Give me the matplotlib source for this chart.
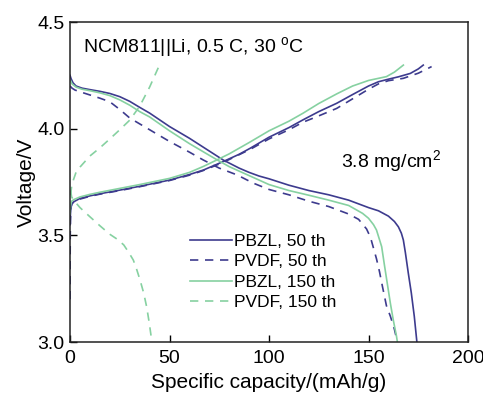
import numpy as np
import matplotlib
matplotlib.use("Agg")
import matplotlib.pyplot as plt

plt.rcParams['font.family'] = ['Liberation Sans', 'DejaVu Sans']
plt.rcParams['mathtext.fontset'] = 'custom'
plt.rcParams['mathtext.rm'] = 'Liberation Sans'

dark = '#3d3b8e'
green = '#86d1a1'

# PBZL, 50 th
pbzl50_dis_x = [0, 0.5, 1.5, 3, 6, 10, 15, 20, 25, 30, 35, 40, 50, 60, 70, 77, 85, 90, 95, 100,
                110, 120, 130, 140, 150, 155, 160, 163, 165, 166.5, 167.5, 168.5, 170, 171.5, 173, 174.3]
pbzl50_dis_y = [4.25, 4.235, 4.215, 4.20, 4.19, 4.183, 4.175, 4.165, 4.15, 4.128, 4.10, 4.073, 4.01,
                3.955, 3.895, 3.853, 3.815, 3.795, 3.778, 3.765, 3.735, 3.71, 3.69, 3.665, 3.63, 3.615,
                3.59, 3.565, 3.54, 3.51, 3.478, 3.42, 3.322, 3.23, 3.12, 3.0]
pbzl50_chg_x = [0, 0.2, 0.5, 1, 2, 5, 10, 15, 25, 35, 50, 60, 67, 77, 85, 90.5, 100, 110, 117, 125,
                134, 142, 150, 155, 160, 165, 171, 175, 177.5]
pbzl50_chg_y = [3.55, 3.6, 3.635, 3.65, 3.658, 3.673, 3.685, 3.695, 3.712, 3.73, 3.759, 3.785, 3.806,
                3.846, 3.88, 3.908, 3.96, 4.005, 4.041, 4.08, 4.119, 4.16, 4.2, 4.22, 4.232, 4.243,
                4.259, 4.28, 4.298]

# PVDF, 50 th
pvdf50_dis_x = [0, 1, 2.5, 6, 10, 15, 20, 25, 30, 40, 50, 60, 67, 75, 84, 92, 100, 110, 120, 130,
                140, 145, 149, 151, 152.5, 154, 155.5, 157, 159, 161, 163, 164]
pvdf50_dis_y = [4.20, 4.19, 4.181, 4.17, 4.158, 4.143, 4.126, 4.09, 4.05, 3.995, 3.94, 3.89, 3.853,
                3.815, 3.783, 3.745, 3.715, 3.69, 3.66, 3.635, 3.60, 3.575, 3.53, 3.49, 3.44, 3.39,
                3.33, 3.26, 3.17, 3.12, 3.06, 3.02]
pvdf50_chg_x = [0, 0.1, 0.3, 0.6, 1, 2, 5, 10, 15, 25, 35, 50, 60, 67, 77, 90.5, 100, 110, 117, 125,
                134, 142, 150, 155, 160, 167.5, 175, 181.7]
pvdf50_chg_y = [3.2, 3.5, 3.6, 3.635, 3.65, 3.656, 3.67, 3.683, 3.693, 3.71, 3.728, 3.757, 3.782,
                3.804, 3.842, 3.903, 3.952, 3.995, 4.03, 4.06, 4.095, 4.14, 4.185, 4.21, 4.225, 4.236,
                4.26, 4.291]

# PBZL, 150 th
pbzl150_dis_x = [0, 1, 3, 6, 10, 15, 20, 25, 30, 35, 40, 50, 60, 70, 75, 80, 90, 100, 110, 120, 130,
                 140, 147, 150, 152.5, 154, 155.5, 156.6, 158, 159.5, 161, 162.5, 164, 164.5]
pbzl150_dis_y = [4.23, 4.21, 4.195, 4.185, 4.178, 4.168, 4.155, 4.135, 4.11, 4.08, 4.055, 3.99, 3.93,
                 3.875, 3.848, 3.822, 3.78, 3.738, 3.71, 3.688, 3.665, 3.64, 3.603, 3.58, 3.55, 3.525,
                 3.48, 3.447, 3.36, 3.27, 3.18, 3.1, 3.03, 3.0]
pbzl150_chg_x = [0, 0.3, 0.8, 2, 5, 10, 15, 25, 35, 50, 60, 67, 73.7, 80, 90, 100, 110, 117, 125,
                 134, 142, 150, 155, 159, 163, 167.5]
pbzl150_chg_y = [3.6, 3.64, 3.66, 3.668, 3.68, 3.692, 3.702, 3.72, 3.738, 3.767, 3.795, 3.823, 3.853,
                 3.882, 3.935, 3.99, 4.035, 4.072, 4.118, 4.163, 4.2, 4.226, 4.236, 4.244, 4.265, 4.298]

# PVDF, 150 th
pvdf150_dis_x = [0.3, 0.8, 1.7, 5, 10, 15, 20, 24, 27, 29.5, 31.8, 33.5, 35.2, 37, 38.5, 39.8, 41, 41.3]
pvdf150_dis_y = [3.71, 3.68, 3.666, 3.63, 3.587, 3.545, 3.505, 3.48, 3.455, 3.42, 3.384, 3.34, 3.29,
                 3.23, 3.165, 3.09, 3.01, 3.0]
pvdf150_chg_x = [0.3, 0.8, 1.7, 3, 5, 10, 15, 20, 25, 30, 35, 40, 45.5]
pvdf150_chg_y = [3.689, 3.73, 3.76, 3.795, 3.82, 3.872, 3.91, 3.952, 3.995, 4.04, 4.105, 4.195, 4.31]

fig = plt.figure(figsize=(4.83, 3.98), dpi=100)
ax = fig.add_axes([0.145, 0.1407, 0.824, 0.804])

lw = 1.2
dash = (5, 4)
kw = dict(lw=lw, solid_joinstyle='round', dash_joinstyle='round')
ax.plot(pbzl50_dis_x, pbzl50_dis_y, color=dark, label='PBZL, 50 th', **kw)
ax.plot(pbzl50_chg_x, pbzl50_chg_y, color=dark, **kw)
ax.plot(pvdf50_dis_x, pvdf50_dis_y, color=dark, dashes=dash, label='PVDF, 50 th', **kw)
ax.plot(pvdf50_chg_x, pvdf50_chg_y, color=dark, dashes=dash, **kw)
ax.plot(pbzl150_dis_x, pbzl150_dis_y, color=green, label='PBZL, 150 th', **kw)
ax.plot(pbzl150_chg_x, pbzl150_chg_y, color=green, **kw)
ax.plot(pvdf150_dis_x, pvdf150_dis_y, color=green, dashes=dash, label='PVDF, 150 th', **kw)
ax.plot(pvdf150_chg_x, pvdf150_chg_y, color=green, dashes=dash, **kw)

ax.set_xlim(0, 200)
ax.set_ylim(3.0, 4.5)
ax.set_xticks([0, 50, 100, 150, 200])
ax.set_yticks([3.0, 3.5, 4.0, 4.5])
ax.set_yticklabels(['3.0', '3.5', '4.0', '4.5'])
ax.tick_params(direction='in', length=5, width=1, labelsize=14)
ax.tick_params(axis='x', pad=6)
ax.tick_params(axis='y', pad=4)
for s in ax.spines.values():
    s.set_linewidth(1.1)
    s.set_color('#222222')

ax.set_xlabel('Specific capacity/(mAh/g)', fontsize=15, labelpad=4)
ax.set_ylabel('Voltage/V', fontsize=15, labelpad=1)

ax.text(0.033, 0.92, r'NCM811||Li, 0.5 C, 30 $^\mathregular{o}$C', transform=ax.transAxes,
        fontsize=14, va='center', ha='left')
ax.text(0.68, 0.565, r'3.8 mg/cm$^\mathregular{2}$', transform=ax.transAxes,
        fontsize=14, va='center', ha='left')

ax.legend(loc='upper left', bbox_to_anchor=(0.28, 0.365), frameon=False, fontsize=12.5,
          handlelength=2.4, handletextpad=0.1, labelspacing=0.3, borderpad=0)

fig.savefig('out.png', dpi=100)
